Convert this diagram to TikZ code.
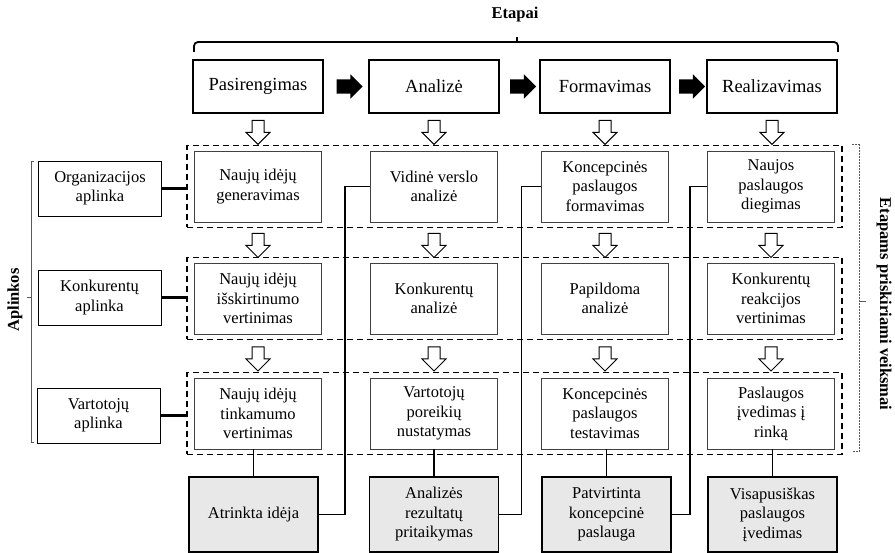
\documentclass[tikz,border=0pt]{standalone}
\usepackage{fontspec}
\setmainfont{Liberation Serif}
\usetikzlibrary{shapes.arrows,fit,calc}

\begin{document}
\begin{tikzpicture}[x=1pt, y=-1pt,
    every node/.style={font=\fontsize{16.5}{19.5}\selectfont, align=center, inner sep=0pt},
    stage/.style={draw, line width=2pt, minimum width=130pt, minimum height=53pt, font=\fontsize{18.5}{22}\selectfont},
    act/.style={draw=black!75, line width=0.9pt, minimum width=127pt, minimum height=71pt},
    env/.style={draw, line width=0.9pt, minimum width=123pt, minimum height=55pt},
    result/.style={draw, fill=gray!18, line width=1.8pt, minimum width=129pt, minimum height=75pt},
    row/.style={draw, dash pattern=on 6pt off 4pt, line width=1.4pt, inner xsep=7pt, inner ysep=5pt},
    blk/.style={single arrow, fill=black, inner sep=7pt, minimum height=26pt, single arrow head extend=5pt},
    hollow/.style={single arrow, draw, fill=white, line width=1pt, shape border rotate=270,
        inner sep=5.5pt, minimum height=24pt, single arrow head extend=6pt},
    link/.style={line width=1.3pt},
    brk/.style={black!65, line width=1pt}]
    \useasboundingbox (0,0) rectangle (895,553);

    % 阶段
    \node[stage] (p1) at (258,86.5) {Pasirengimas};
    \node[stage] (p2) at (434,86.5) {Analizė};
    \node[stage] (p3) at (605,86.5) {Formavimas};
    \node[stage] (p4) at (772,86.5) {Realizavimas};
    \node[blk] (b1) at ($(p1.east)!0.5!(p2.west)$) {};
    \node[blk] (b2) at ($(p2.east)!0.5!(p3.west)$) {};
    \node[blk] (b3) at ($(p3.east)!0.5!(p4.west)$) {};

    % 括号
    \coordinate (bl) at ([xshift=2pt, yshift=7pt]p1.north west);
    \coordinate (br) at ([yshift=7pt]p4.north east);
    \coordinate (bt) at (517,43);
    \draw[line width=1.8pt, rounded corners=4pt] (bl) -- ++(0,-10) -| (br);
    \draw[line width=1.8pt] (bt) -- ++(0,-6);
    \node[font=\fontsize{16.5}{19.5}\selectfont\bfseries] (et) at (515,15) {Etapai};

    % 第一行
    \node[act] (a11) at (258,186.5) {Naujų idėjų\\generavimas};
    \node[act] (a12) at (434,186.5) {Vidinė verslo\\analizė};
    \node[act] (a13) at (605,186.5) {Koncepcinės\\paslaugos\\formavimas};
    \node[act] (a14) at (771,186.5) {Naujos\\paslaugos\\diegimas};

    % 第二行
    \node[act] (a21) at (258,298.5) {Naujų idėjų\\išskirtinumo\\vertinimas};
    \node[act] (a22) at (434,298.5) {Konkurentų\\analizė};
    \node[act] (a23) at (605,298.5) {Papildoma\\analizė};
    \node[act] (a24) at (771,298.5) {Konkurentų\\reakcijos\\vertinimas};

    % 第三行
    \node[act] (a31) at (258,413.5) {Naujų idėjų\\tinkamumo\\vertinimas};
    \node[act] (a32) at (434,413.5) {Vartotojų\\poreikių\\nustatymas};
    \node[act] (a33) at (605,413.5) {Koncepcinės\\paslaugos\\testavimas};
    \node[act] (a34) at (771,413.5) {Paslaugos\\įvedimas į\\rinką};

    % 虚线框
    \node[row, fit=(a11)(a14)] (row1) {};
    \node[row, fit=(a21)(a24)] (row2) {};
    \node[row, fit=(a31)(a34)] (row3) {};

    % 空心箭头
    \node[hollow] (h11) at ($(p1.south)!0.5!(p1.south |- row1.north)$) {};
    \node[hollow] (h12) at ($(p2.south)!0.5!(p2.south |- row1.north)$) {};
    \node[hollow] (h13) at ($(p3.south)!0.5!(p3.south |- row1.north)$) {};
    \node[hollow] (h14) at ($(p4.south)!0.5!(p4.south |- row1.north)$) {};
    \node[hollow] (h21) at ($(a11 |- row1.south)!0.5!(a11 |- row2.north)$) {};
    \node[hollow] (h22) at ($(a12 |- row1.south)!0.5!(a12 |- row2.north)$) {};
    \node[hollow] (h23) at ($(a13 |- row1.south)!0.5!(a13 |- row2.north)$) {};
    \node[hollow] (h24) at ($(a14 |- row1.south)!0.5!(a14 |- row2.north)$) {};
    \node[hollow] (h31) at ($(a21 |- row2.south)!0.5!(a21 |- row3.north)$) {};
    \node[hollow] (h32) at ($(a22 |- row2.south)!0.5!(a22 |- row3.north)$) {};
    \node[hollow] (h33) at ($(a23 |- row2.south)!0.5!(a23 |- row3.north)$) {};
    \node[hollow] (h34) at ($(a24 |- row2.south)!0.5!(a24 |- row3.north)$) {};

    % 结果
    \node[result] (g1) at (253.5,514.5) {Atrinkta idėja};
    \node[result] (g2) at (434,514.5) {Analizės\\rezultatų\\pritaikymas};
    \node[result] (g3) at (606.5,514.5) {Patvirtinta\\koncepcinė\\paslauga};
    \node[result] (g4) at (772.5,514.5) {Visapusiškas\\paslaugos\\įvedimas};
    \draw[link] (g1.north) -- (g1.north |- a31.south);
    \draw[link] (g2.north) -- (g2.north |- a32.south);
    \draw[link] (g3.north) -- (g3.north |- a33.south);
    \draw[link] (g4.north) -- (g4.north |- a34.south);

    % 反馈线
    \draw[link] (g1.east) -- ++(26,0) |- (a12.west);
    \draw[link] (g2.east) -- ++(22,0) |- (a13.west);
    \draw[link] (g3.east) -- ++(18,0) |- (a14.west);

    % 环境
    \node[env] (e1) at (100,188.5) {Organizacijos\\aplinka};
    \node[env] (e2) at (99.5,297.5) {Konkurentų\\aplinka};
    \node[env] (e3) at (98.5,415.5) {Vartotojų\\aplinka};
    \draw[line width=3.5pt] (e1.east) -- (e1.east -| row1.west);
    \draw[line width=3.5pt] (e2.east) -- (e2.east -| row2.west);
    \draw[line width=3.5pt] (e3.east) -- (e3.east -| row3.west);

    % 左右括号
    \draw[brk] (34,162) -- (31,162) -- (31,443) -- (34,443);
    \draw[brk] (31,298) -- (27,298);
    \node[rotate=90, font=\fontsize{16.5}{19.5}\selectfont\bfseries] (apl) at (15,300) {Aplinkos};
    \draw[brk, dash pattern=on 2pt off 1pt] (852,145) -- (859,145) -- (859,452) -- (852,452);
    \draw[brk] (859,302) -- (866,302);
    \node[rotate=-90, font=\fontsize{16.5}{19.5}\selectfont\bfseries] (epv) at (884,304) {Etapams priskiriami veiksmai};
\end{tikzpicture}
\end{document}
